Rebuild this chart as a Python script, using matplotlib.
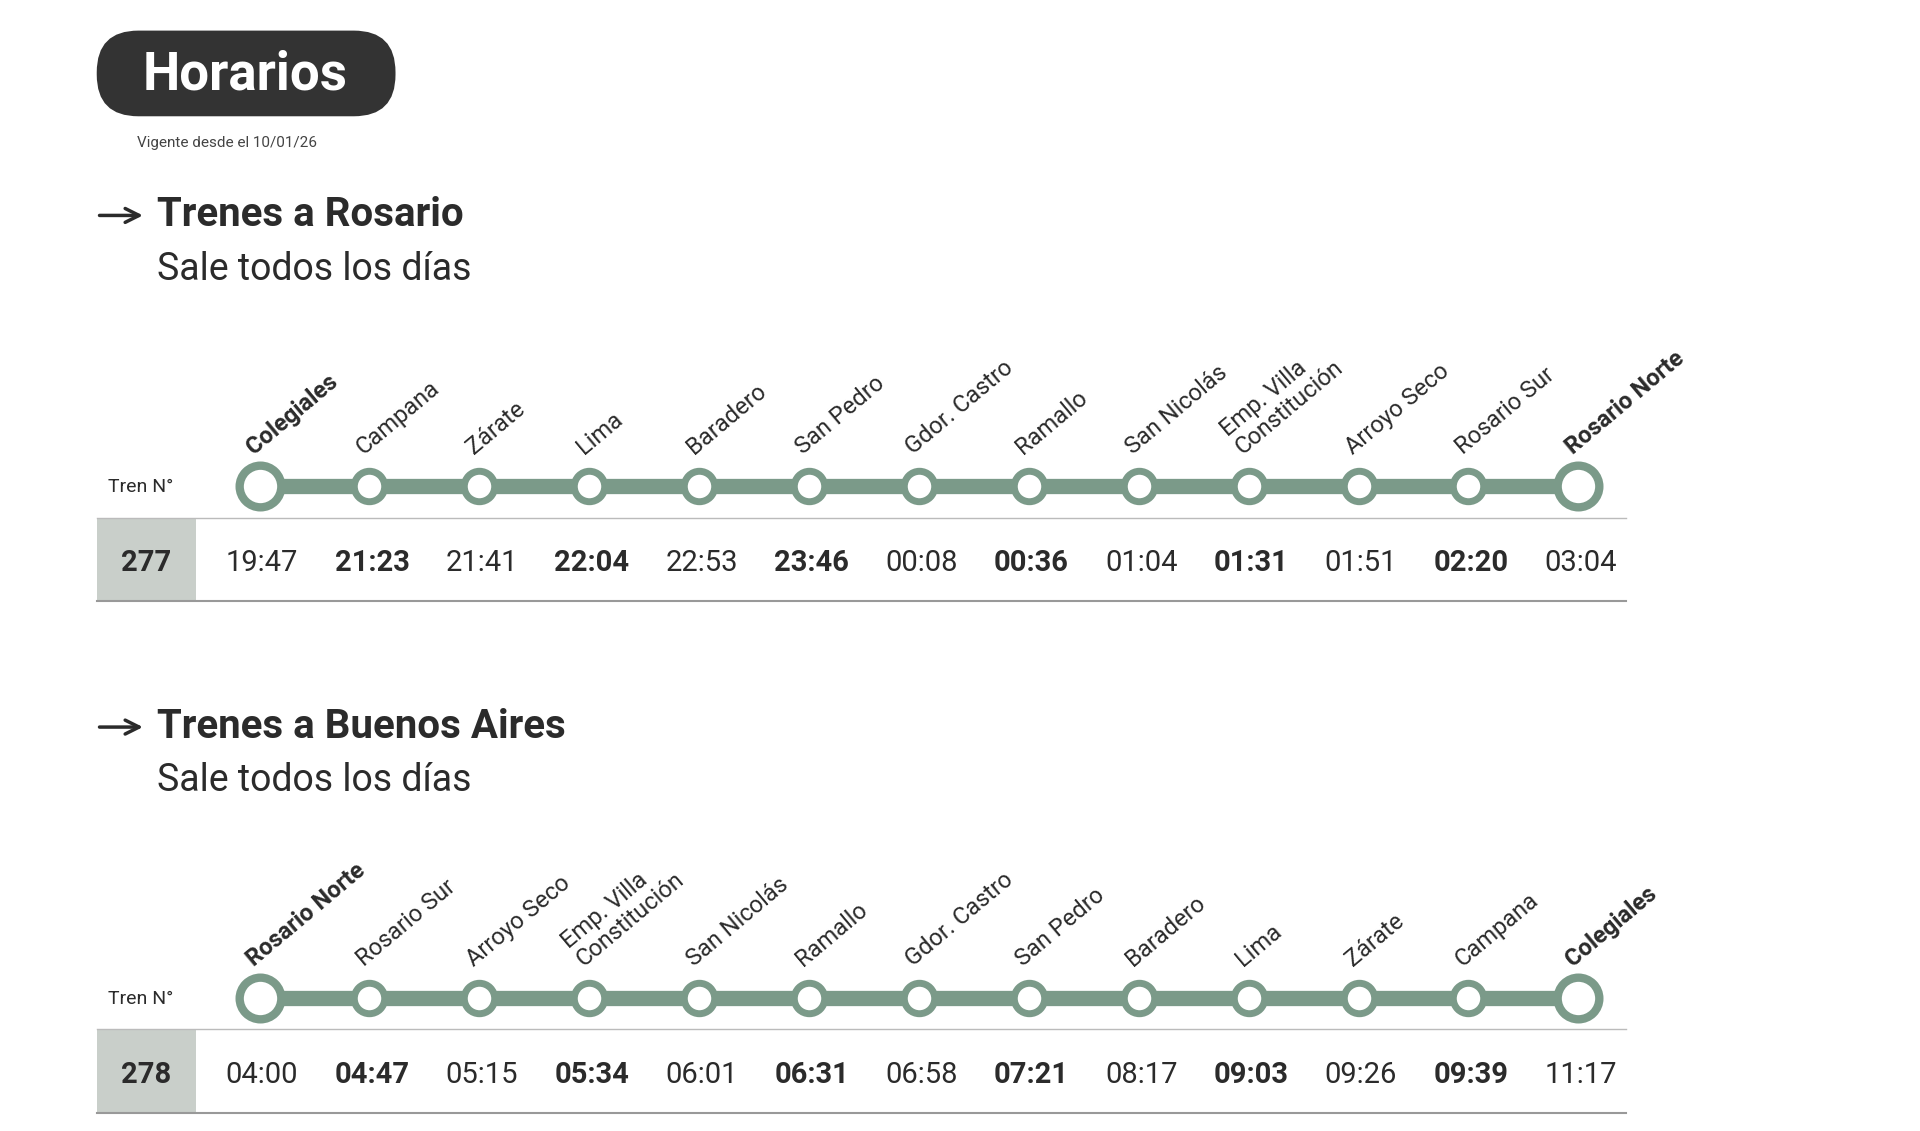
import matplotlib.pyplot as plt
from matplotlib.patches import FancyBboxPatch, Rectangle

plt.rcParams['font.family'] = ['Roboto', 'DejaVu Sans']

stations_to_rosario = ['Colegiales', 'Campana', 'Zárate', 'Lima', 'Baradero', 'San Pedro',
                       'Gdor. Castro', 'Ramallo', 'San Nicolás', 'Emp. Villa\nConstitución',
                       'Arroyo Seco', 'Rosario Sur', 'Rosario Norte']
times_277 = ['19:47', '21:23', '21:41', '22:04', '22:53', '23:46', '00:08',
             '00:36', '01:04', '01:31', '01:51', '02:20', '03:04']
stations_to_ba = stations_to_rosario[::-1]
times_278 = ['04:00', '04:47', '05:15', '05:34', '06:01', '06:31', '06:58',
             '07:21', '08:17', '09:03', '09:26', '09:39', '11:17']

LINE = '#7b9a89'
BOX = '#c9cfca'
TXT = '#2b2b2b'

fig = plt.figure(figsize=(19.2, 11.31), dpi=100)
ax = fig.add_axes([0, 0, 1, 1])
ax.set_xlim(0, 1568)
ax.set_ylim(924, 0)
ax.axis('off')

# header pill
ax.add_patch(FancyBboxPatch((79, 25), 244, 70, boxstyle='round,pad=0,rounding_size=34',
                            fc='#333333', ec='none'))
ax.text(200, 61, 'Horarios', color='white', fontsize=38, fontweight='bold', ha='center', va='center')
ax.text(112, 117, 'Vigente desde el 10/01/26', color='#444444', fontsize=11, va='center')


def section(y0, title, stations, train, times):
    ax.annotate('', xy=(119, y0), xytext=(79, y0),
                arrowprops=dict(arrowstyle='->', lw=2.5, color=TXT, mutation_scale=25))
    ax.text(128, y0, title, fontsize=29, fontweight='bold', color=TXT, va='center')
    ax.text(128, y0 + 44, 'Sale todos los días', fontsize=27, color=TXT, va='center')

    ly = y0 + 221
    x0, x1 = 212, 1289
    n = len(stations)
    xs = [x0 + (x1 - x0) * i / (n - 1) for i in range(n)]
    ax.plot([x0, x1], [ly, ly], color=LINE, lw=11, solid_capstyle='butt', zorder=1)
    for i, (x, st) in enumerate(zip(xs, stations)):
        big = i in (0, n - 1)
        ax.scatter([x], [ly], s=900 if big else 480, c='white', edgecolors=LINE,
                   linewidths=6 if big else 5, zorder=2)
        ax.text(x - 2, ly - 22, st, rotation=40, rotation_mode='anchor', ha='left', va='bottom',
                fontsize=17, color=TXT, fontweight='bold' if big else 'normal', linespacing=1.0)
    ax.text(88, ly + 1, 'Tren N°', fontsize=14, color=TXT, va='center')

    ty = y0 + 247
    ax.plot([79, 1328], [ty, ty], color='#bbbbbb', lw=1)
    ax.plot([79, 1328], [ty + 68, ty + 68], color='#999999', lw=1.5)
    ax.add_patch(Rectangle((79, ty), 81, 68, fc=BOX, ec='none'))
    ax.text(119, ty + 37, train, fontsize=21, fontweight='bold', color=TXT, ha='center', va='center')
    for i, (x, t) in enumerate(zip(xs, times)):
        ax.text(x + 2, ty + 37, t, fontsize=21, color=TXT, ha='center', va='center',
                fontweight='bold' if i % 2 == 1 else 'normal')


section(176, 'Trenes a Rosario', stations_to_rosario, '277', times_277)
section(594, 'Trenes a Buenos Aires', stations_to_ba, '278', times_278)

fig.savefig('out.png', dpi=100, facecolor='white')
